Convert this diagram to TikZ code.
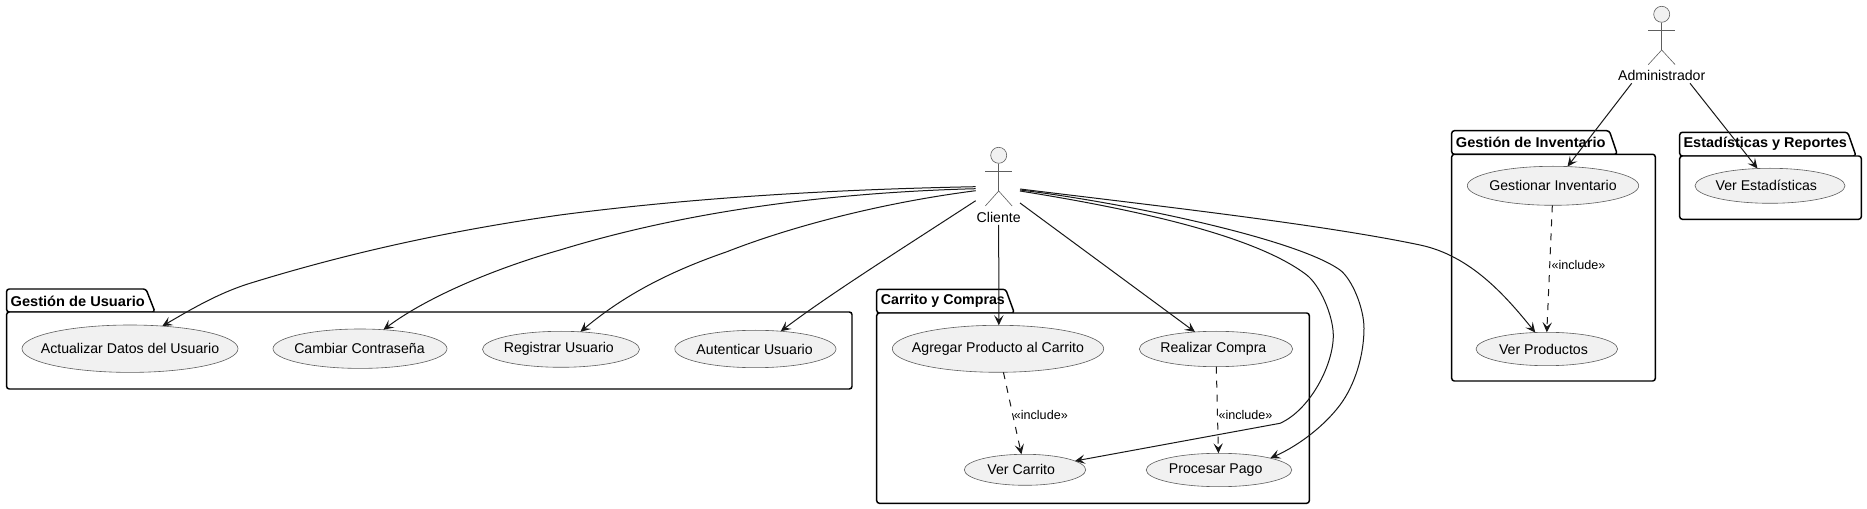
\documentclass[tikz,border=0pt]{standalone}
\usepackage{fontspec}
\setmainfont{Liberation Sans}
\usetikzlibrary{shapes.geometric,arrows.meta}
\definecolor{ucfill}{HTML}{F1F1F1}
\definecolor{ink}{HTML}{181818}
\definecolor{hair}{HTML}{5E5E5E}
\newcommand{\uctext}[2][0]{\makebox[0pt]{\hspace{#1pt}#2}}
\tikzset{
  uc/.style n args={2}{ellipse,draw=hair,fill=ucfill,line width=0.45pt,inner sep=0pt,outer sep=0pt,
    minimum width=#1*0.75pt,minimum height=#2*0.75pt,font=\fontsize{10.6pt}{12pt}\selectfont},
  pkg/.style={draw=black,fill=white,line width=1.1pt,rounded corners=2pt},
  pkgtitle/.style={anchor=west,inner sep=0pt,font=\fontsize{10.65pt}{12pt}\selectfont\bfseries},
  actorline/.style={draw=hair,line width=0.45pt},
  actorhead/.style={circle,draw=hair,fill=ucfill,line width=0.45pt,inner sep=0pt,minimum size=12pt},
  actorname/.style={inner sep=0pt,font=\fontsize{10.6pt}{12pt}\selectfont},
  conn/.style={draw=ink,line width=0.75pt,-{Stealth[length=7.5pt,width=7pt,inset=3.2pt]}},
  incl/.style={conn,dash pattern=on 5.25pt off 5.25pt},
  incllabel/.style={inner sep=0pt,font=\fontsize{9.45pt}{11pt}\selectfont}
}
\begin{document}
\begin{tikzpicture}[x=0.75pt,y=-0.75pt]
\useasboundingbox (0,0) rectangle (1867,509);
\fill[white] (0,0) rectangle (1867,509);

% packages
\draw[pkg] (6.6,312) -- (6.6,289) -- (146,289) -- (155,312) -- cycle;
\draw[pkg] (6.6,312) rectangle (852,389);
\draw[pkg] (876.7,313) -- (876.7,289.3) -- (1005.7,289.3) -- (1014.3,313) -- cycle;
\draw[pkg] (876.7,313) rectangle (1309.3,503.3);
\draw[pkg] (1451.7,154.3) -- (1451.7,130.7) -- (1609.3,130.7) -- (1617.3,154.3) -- cycle;
\draw[pkg] (1451.7,154.3) rectangle (1655.3,381);
\draw[pkg] (1679.7,156) -- (1679.7,132.3) -- (1847.7,132.3) -- (1856,156) -- cycle;
\draw[pkg] (1679.7,156) rectangle (1861.3,219.3);

\node[pkgtitle] (tUsuario) at (10.4,301.3) {\scalebox{1.03}[1]{Gestión de Usuario}};
\node[pkgtitle] (tCarrito) at (880.7,301.3) {Carrito y Compras};
\node[pkgtitle] (tInventario) at (1455.7,142.3) {\scalebox{1.03}[1]{Gestión de Inventario}};
\node[pkgtitle] (tEstad) at (1683.3,144) {\scalebox{1.02}[1]{Estadísticas y Reportes}};

% use cases (optional argument: horizontal text offset)
\node[uc={216}{47.4}] (actualizar) at (130,348.7) {\uctext{Actualizar Datos del Usuario}};
\node[uc={174}{39.4}] (cambiar) at (360,348.7) {\uctext[-0.8]{Cambiar Contraseña}};
\node[uc={157}{36}] (registrar) at (561,349.3) {\uctext[-3.3]{Registrar Usuario}};
\node[uc={161.2}{37.4}] (autenticar) at (755.4,349) {\uctext[-1.2]{Autenticar Usuario}};
\node[uc={211.4}{47}] (agregar) at (998,348.8) {\uctext{Agregar Producto al Carrito}};
\node[uc={153.4}{35.4}] (realizar) at (1216,349) {\uctext[-4]{Realizar Compra}};
\node[uc={121.4}{31}] (carrito) at (1025,469.8) {\uctext[-5.7]{Ver Carrito}};
\node[uc={145.6}{33.4}] (pago) at (1219,470) {\uctext[-5]{Procesar Pago}};
\node[uc={171.4}{39}] (gestionar) at (1553,185.8) {\uctext{Gestionar Inventario}};
\node[uc={150}{35}] (verest) at (1770,185.8) {\uctext[-5.5]{Ver Estadísticas}};
\node[uc={141.6}{33.4}] (verprod) at (1546.8,349) {\uctext[-5]{Ver Productos}};

% actors
\node[actorname] (cliente) at (998.7,217.3) {Cliente};
\node[actorhead] (clienteHead) at (998.7,155.3) {};
\draw[actorline] (clienteHead.south) -- ++(0,27.4) coordinate (clienteHip);
\draw[actorline] (clienteHip) -- ++(-13.4,15) (clienteHip) -- ++(13.4,15);
\draw[actorline] ([shift={(-13.4,8)}]clienteHead.south) -- ++(26.8,0);

\node[actorname] (admin) at (1661.7,75.3) {Administrador};
\node[actorhead] (adminHead) at (1661.7,14.3) {};
\draw[actorline] (adminHead.south) -- ++(0,27.4) coordinate (adminHip);
\draw[actorline] (adminHip) -- ++(-13.4,14.6) (adminHip) -- ++(13.4,14.6);
\draw[actorline] ([shift={(-13.4,7.7)}]adminHead.south) -- ++(26.8,0);

% connectors from Cliente
\draw[conn] ([shift={(-23,-30.6)}]cliente.center) .. controls (830,189.5) and (690,198) .. (560,215)
  .. controls (440,232) and (340,255.5) .. (250,283.3)
  .. controls (218,293.2) and (190,310) .. (actualizar.35);
\draw[conn] ([shift={(-23,-28.6)}]cliente.center) .. controls (850,192) and (700,207) .. (560,250)
  .. controls (500,267) and (430,295) .. (cambiar.39.7);
\draw[conn] ([shift={(-23,-26.6)}]cliente.center) .. controls (880,203) and (790,227) .. (727,251.7)
  .. controls (680,268) and (630,290) .. (registrar.42.9);
\draw[conn] ([shift={(-23,-16.6)}]cliente.center) .. controls (900,250) and (830,294) .. (autenticar.35.5);
\draw[conn] ([shift={(0,7.7)}]cliente.center) -- (agregar.88);
\draw[conn] ([shift={(21.3,-14.3)}]cliente.center) -- (realizar.141.9);
\draw[conn] ([shift={(21.3,-26.3)}]cliente.center) .. controls (1120,207) and (1252,233) .. (1306.7,275)
  .. controls (1320,285.4) and (1333,315) .. (1333.3,335)
  .. controls (1333.5,365) and (1310,410) .. (1280,423.3) -- (carrito.10.3);
\draw[conn] ([shift={(21.3,-27.3)}]cliente.center) .. controls (1120,202) and (1295,238) .. (1340,270)
  .. controls (1352,279) and (1364,308) .. (1364,328.3)
  .. controls (1364,355) and (1355,385) .. (1340,405)
  .. controls (1325,425) and (1300,445) .. (pago.13.1);
\draw[conn] ([shift={(21.3,-28.3)}]cliente.center) .. controls (1150,205) and (1320,224) .. (1420,245)
  .. controls (1470,255.5) and (1505,295) .. (verprod.125.6);

% connectors from Administrador
\draw[conn] ([shift={(-30,8)}]admin.center) -- (gestionar.53.9);
\draw[conn] ([shift={(28.3,8)}]admin.center) -- (verest.126.4);

% include
\draw[incl] (agregar.283.6) -- (carrito.103.4);
\draw[incl] (realizar.271) -- (pago.92);
\draw[incl] (gestionar.268) -- (verprod.90);
\node[incllabel] (lblA) at (1040.8,415) {«include»};
\node[incllabel] (lblB) at (1245.5,415) {«include»};
\node[incllabel] (lblC) at (1578.5,265) {«include»};
\end{tikzpicture}
\end{document}
